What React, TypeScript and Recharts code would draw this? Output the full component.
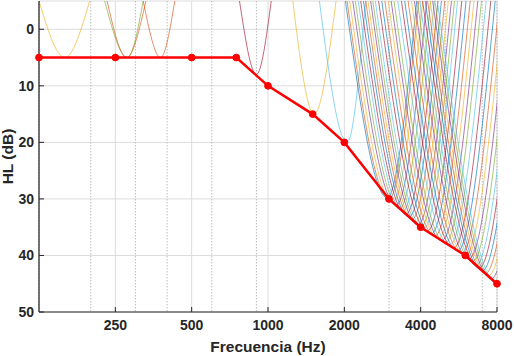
import { CartesianGrid, Line, LineChart, XAxis, YAxis } from "recharts";

// audiogram (red line)
const freqs = [125, 250, 500, 750, 1000, 1500, 2000, 3000, 4000, 6000, 8000];
const hearingLevel = [5, 5, 5, 5, 10, 15, 20, 30, 35, 40, 45];

const majorTicks = [250, 500, 1000, 2000, 4000, 8000];
const minorTicks = [200, 300, 400, 600, 700, 800, 900, 3000, 5000, 6000, 7000];
const hlTicks = [0, 10, 20, 30, 40, 50];
const hlTop = -5;

// tuning curves: where each branch leaves the top of the plot, and the tip
const curveLow = [
  125, 227, 232, 322, 772, 1252, 1595,
  2020, 2050, 2100, 2160, 2210, 2270, 2320, 2380, 2430, 2480,
  2540, 2590, 2650, 2730, 2810, 2890, 2980, 3060, 3140, 3250,
  3360, 3460, 3570, 3680, 3780, 3880, 3970, 4070, 4170, 4260,
  4360, 4460, 4550, 4650,
];
const curveTip = [
  158, 279, 277, 377, 900, 1520, 2050,
  2950, 3000, 3100, 3200, 3300, 3400, 3500, 3600, 3700, 3800,
  3900, 4000, 4100, 4250, 4400, 4550, 4700, 4850, 5000, 5200,
  5400, 5600, 5800, 6000, 6200, 6400, 6600, 6800, 7000, 7200,
  7400, 7600, 7800, 8000,
];
const curveTipHL = [
  5, 5, 5, 5, 8, 15, 20,
  29.8, 30, 30.6, 31.1, 31.7, 32.2, 32.7, 33.2, 33.6, 34.1,
  34.6, 35, 35.3, 35.7, 36.2, 36.6, 37, 37.4, 37.8, 38.2,
  38.7, 39.2, 39.6, 40, 40.6, 41.1, 41.7, 42.2, 42.7, 43.2,
  43.6, 44.1, 44.6, 45,
];
const curveHigh = [
  198, 322, 330, 429, 1030, 1855, 2430,
  3860, 3930, 4080, 4230, 4380, 4530, 4680, 4830, 4980, 5140,
  5290, 5440, 5590, 5810, 6040, 6270, 6490, 6720, 6950, 7250,
  7560, 7870, 8180, 8490, 8810, 9130, 9460, 9780, 10110, 10440,
  10760, 11090, 11430, 11760,
];

// matlab default colour order
const palette = ["#0072BD", "#D95319", "#EDB120", "#7E2F8E", "#77AC30", "#4DBEEE", "#A2142F"];
const firstColours = [2, 4, 1, 1, 6, 2, 5];

const audiogram = freqs.map((f, i) => ({ f, hl: hearingLevel[i] }));
const tuningCurves = curveLow.map((lo, i) => [
  { f: lo, hl: hlTop },
  { f: curveTip[i], hl: curveTipHL[i] },
  { f: curveHigh[i], hl: hlTop },
]);

const ink = "#262626";
const tickFont = { fill: ink, fontSize: 14, fontWeight: 700 };
const noLabel = () => <g />;

export default function App() {
  return (
    <div
      style={{
        position: "absolute",
        left: 0,
        top: 0,
        fontFamily: "'Liberation Sans', Arial, sans-serif",
        background: "#fff",
      }}
    >
      <LineChart
        width={514}
        height={356}
        margin={{ top: 1, right: 17, left: 0, bottom: 0 }}
      >
        <CartesianGrid xAxisId="b" yAxisId="l" stroke="#dcdcdc" />
        <CartesianGrid
          xAxisId="bm"
          yAxisId="l"
          horizontal={false}
          stroke="#bdbdbd"
          strokeDasharray="1.5 1.5"
        />
        <XAxis
          xAxisId="bm"
          dataKey="f"
          type="number"
          scale="log"
          domain={[125, 8000]}
          allowDataOverflow
          ticks={minorTicks}
          tick={noLabel}
          tickSize={-2.5}
          axisLine={false}
          tickLine={{ stroke: ink }}
          height={0}
        />
        <XAxis
          xAxisId="b"
          dataKey="f"
          type="number"
          scale="log"
          domain={[125, 8000]}
          allowDataOverflow
          ticks={majorTicks}
          tick={tickFont}
          tickSize={-5}
          tickMargin={13}
          axisLine={{ stroke: ink, strokeWidth: 1.2 }}
          tickLine={{ stroke: ink }}
          height={44}
          label={{
            value: "Frecuencia (Hz)",
            position: "insideBottom",
            offset: 4,
            fill: ink,
            fontSize: 15.5,
            fontWeight: 700,
          }}
        />
        <XAxis
          xAxisId="t"
          orientation="top"
          dataKey="f"
          type="number"
          scale="log"
          domain={[125, 8000]}
          ticks={majorTicks}
          tick={noLabel}
          tickSize={-5}
          axisLine={{ stroke: ink, strokeWidth: 1.2 }}
          tickLine={{ stroke: ink }}
          height={0}
        />
        <XAxis
          xAxisId="tm"
          orientation="top"
          dataKey="f"
          type="number"
          scale="log"
          domain={[125, 8000]}
          ticks={minorTicks}
          tick={noLabel}
          tickSize={-2.5}
          axisLine={false}
          tickLine={{ stroke: ink }}
          height={0}
        />
        <YAxis
          yAxisId="l"
          dataKey="hl"
          type="number"
          domain={[hlTop, 50]}
          reversed
          allowDataOverflow
          ticks={hlTicks}
          tick={tickFont}
          tickSize={-5}
          tickMargin={10}
          axisLine={{ stroke: ink, strokeWidth: 1.2 }}
          tickLine={{ stroke: ink }}
          width={39}
          label={{
            value: "HL (dB)",
            angle: -90,
            position: "center",
            dx: -12,
            fill: ink,
            fontSize: 15.5,
            fontWeight: 700,
          }}
        />
        <YAxis
          yAxisId="r"
          orientation="right"
          dataKey="hl"
          type="number"
          domain={[hlTop, 50]}
          reversed
          ticks={hlTicks}
          tick={noLabel}
          tickSize={-5}
          axisLine={{ stroke: ink, strokeWidth: 1.2 }}
          tickLine={{ stroke: ink }}
          width={0}
        />

        {tuningCurves.map((pts, i) => (
          <Line
            key={i}
            xAxisId="b"
            yAxisId="l"
            data={pts}
            dataKey="hl"
            type="monotone"
            stroke={palette[i < firstColours.length ? firstColours[i] : i % palette.length]}
            strokeOpacity={0.65}
            strokeWidth={1}
            dot={false}
            activeDot={false}
            isAnimationActive={false}
          />
        ))}

        <Line
          xAxisId="t"
          yAxisId="r"
          data={audiogram}
          dataKey="hl"
          type="linear"
          stroke="#ff0000"
          strokeWidth={2.5}
          dot={{ r: 3.4, fill: "#ff0000", stroke: "#ff0000", strokeWidth: 1 }}
          activeDot={false}
          isAnimationActive={false}
        />
      </LineChart>
    </div>
  );
}
